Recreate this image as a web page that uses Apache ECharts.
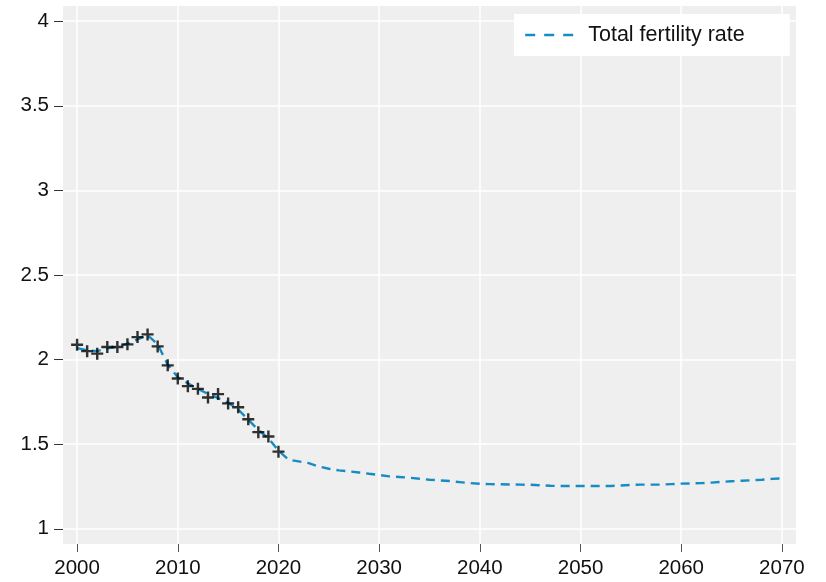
<!DOCTYPE html>
<html>
<head>
<meta charset="utf-8">
<script src="https://cdn.jsdelivr.net/npm/echarts@6/dist/echarts.min.js"></script>
<style>
    html, body {
        margin: 0;
        padding: 0;
        background: #ffffff;
    }
    #chart {
        width: 826px;
        height: 582px;
    }
</style>
</head>
<body>
<div id="chart"></div>
<script>
// years for the projected line, 2000-2070
const lineYears = [];
for (let y = 2000; y <= 2070; y++) lineYears.push(y);

// dashed line (estimate + projection)
const tfrLine = [
    2.068, 2.055, 2.050, 2.066, 2.074, 2.094, 2.120, 2.145, 2.090, 1.970,
    1.895, 1.860, 1.827, 1.797, 1.772, 1.745, 1.705, 1.645, 1.584, 1.535,
    1.462, 1.408, 1.398, 1.388, 1.368, 1.355, 1.345, 1.339, 1.333, 1.325,
    1.318, 1.310, 1.306, 1.302, 1.296, 1.290, 1.286, 1.282, 1.276, 1.270,
    1.266, 1.264, 1.263, 1.262, 1.261, 1.260, 1.257, 1.254, 1.253, 1.253,
    1.253, 1.253, 1.253, 1.253, 1.256, 1.259, 1.261, 1.261, 1.261, 1.264,
    1.267, 1.268, 1.270, 1.273, 1.277, 1.281, 1.284, 1.287, 1.290, 1.295,
    1.298
];

// observed values (crosses), 2000-2020
const obsYears = [];
for (let y = 2000; y <= 2020; y++) obsYears.push(y);
const obsTfr = [
    2.088, 2.050, 2.035, 2.074, 2.074, 2.090, 2.133, 2.149, 2.078, 1.966,
    1.888, 1.843, 1.827, 1.776, 1.796, 1.741, 1.718, 1.647, 1.571, 1.545,
    1.456
];

const xTicks = [2000, 2010, 2020, 2030, 2040, 2050, 2060, 2070];
const yTicks = [1, 1.5, 2, 2.5, 3, 3.5, 4];

const font = "'Liberation Sans', Arial, sans-serif";
const blue = "#168cc4";

let myChart = echarts.init(document.getElementById("chart"));

let option = {
    animation: false,
    grid: {
        left: 63,
        top: 6,
        right: 30,
        bottom: 38,
        show: true,
        backgroundColor: "#efefef",
        borderWidth: 0,
        containLabel: false,
    },
    legend: {
        data: ["Total fertility rate"],
        left: 514,
        top: 14,
        orient: "vertical",
        backgroundColor: "#ffffff",
        padding: [10, 45, 10, 10],
        itemWidth: 50,
        itemHeight: 20,
        itemGap: 0,
        itemStyle: {
            color: "transparent",
            borderWidth: 0,
        },
        lineStyle: {
            color: blue,
            width: 2.4,
            type: [10, 9],
        },
        textStyle: {
            fontFamily: font,
            fontSize: 21.5,
            lineHeight: 21,
            color: "#111111",
            padding: [0, 0, 0, 8],
        },
    },
    xAxis: {
        type: "value",
        min: 1998.6,
        max: 2071.4,
        axisLine: { show: false },
        axisTick: {
            show: true,
            length: 8,
            customValues: xTicks,
            lineStyle: { color: "#555555", width: 1 },
        },
        axisLabel: {
            customValues: xTicks,
            margin: 14,
            fontFamily: font,
            fontSize: 20.5,
            color: "#111111",
            formatter: function (v) {
                return String(v);
            },
        },
        splitLine: {
            show: true,
            lineStyle: { color: "#ffffff", width: 1.5 },
        },
    },
    yAxis: {
        type: "value",
        min: 0.91,
        max: 4.09,
        axisLine: { show: false },
        axisTick: {
            show: true,
            length: 9,
            customValues: yTicks,
            lineStyle: { color: "#333333", width: 1 },
        },
        axisLabel: {
            customValues: yTicks,
            margin: 14,
            fontFamily: font,
            fontSize: 20.5,
            color: "#111111",
        },
        splitLine: {
            show: true,
            lineStyle: { color: "#ffffff", width: 1.5 },
        },
    },
    series: [
        {
            name: "Total fertility rate",
            type: "line",
            showSymbol: false,
            symbol: "none",
            data: lineYears.map((y, i) => [y, tfrLine[i]]),
            lineStyle: {
                color: blue,
                width: 2.4,
                type: [9, 6],
            },
            itemStyle: { color: blue },
            z: 3,
        },
        {
            name: "observed",
            type: "scatter",
            symbol: "path://M4,0h2v4h4v2h-4v4h-2v-4h-4v-2h4z",
            symbolSize: 12,
            data: obsYears.map((y, i) => [y, obsTfr[i]]),
            itemStyle: { color: "#000000" },
            z: 4,
        },
    ],
};

myChart.setOption(option);
</script>
</body>
</html>
